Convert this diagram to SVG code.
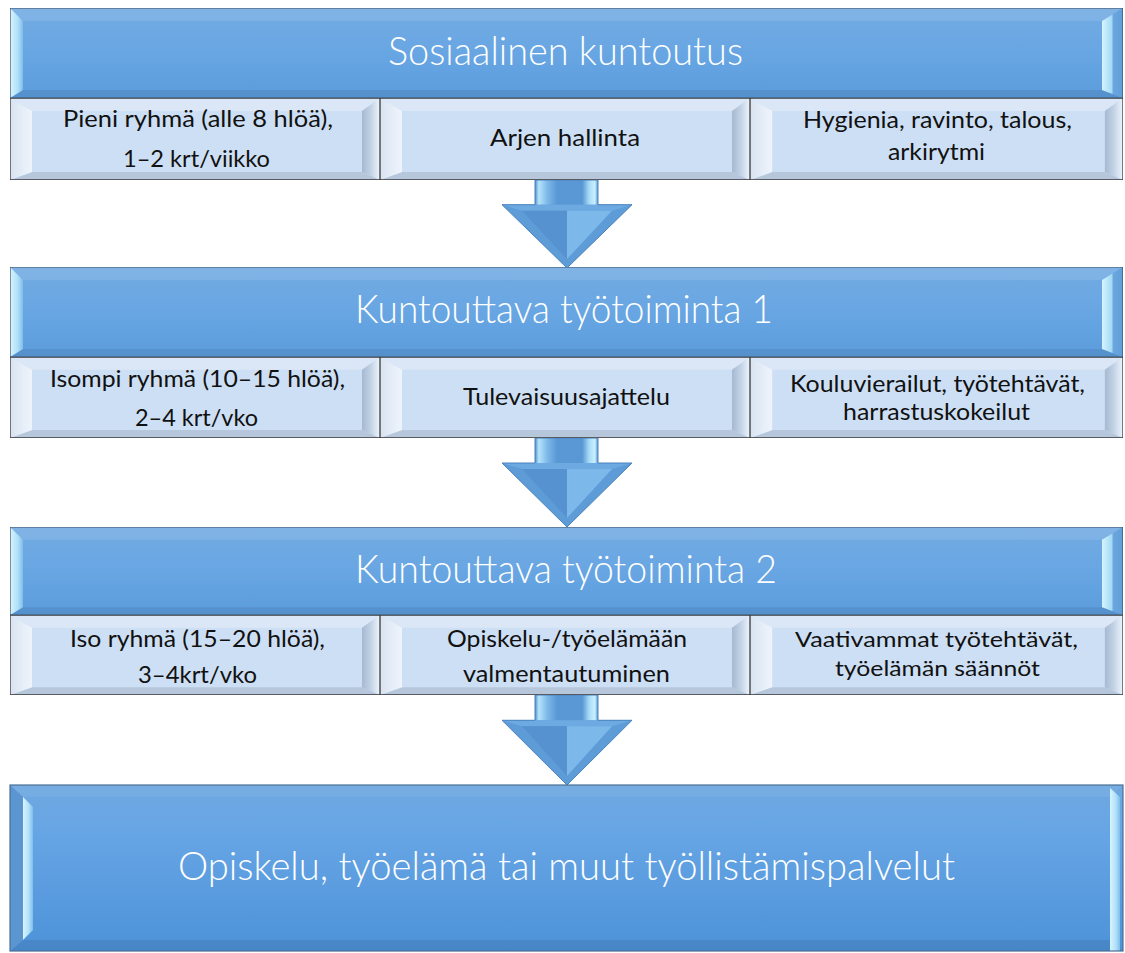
<svg xmlns="http://www.w3.org/2000/svg" xmlns:xlink="http://www.w3.org/1999/xlink" width="1125" height="953" viewBox="0 0 1125 953">
<style>
.h{font-family:Lato,"Liberation Sans","DejaVu Sans",sans-serif;font-weight:300;font-size:39px;fill:#ffffff;text-anchor:middle}
.t{font-family:Lato,"Liberation Sans","DejaVu Sans",sans-serif;font-weight:400;font-size:24px;fill:#111111;text-anchor:middle}
.ts{font-size:22px}
</style>
<defs>
  <linearGradient id="hdrGrad" x1="0" y1="0" x2="0" y2="1">
    <stop offset="0" stop-color="#73abe2"/>
    <stop offset="0.5" stop-color="#68a6e3"/>
    <stop offset="1" stop-color="#5b9cdc"/>
  </linearGradient>
  <linearGradient id="boxGrad" x1="0" y1="0" x2="0" y2="1">
    <stop offset="0" stop-color="#6fa8e0"/>
    <stop offset="0.3" stop-color="#66a5e5"/>
    <stop offset="1" stop-color="#4d92d8"/>
  </linearGradient>
  <linearGradient id="hlL" x1="0" y1="0" x2="1" y2="0">
    <stop offset="0" stop-color="#d8f4ff"/>
    <stop offset="0.6" stop-color="#b0e0f8"/>
    <stop offset="1" stop-color="#7fbdea"/>
  </linearGradient>
  <linearGradient id="hlR" x1="0" y1="0" x2="1" y2="0">
    <stop offset="0" stop-color="#d6f4ff"/>
    <stop offset="0.45" stop-color="#a4dbf6"/>
    <stop offset="0.55" stop-color="#6aa6de"/>
    <stop offset="1" stop-color="#619fda"/>
  </linearGradient>
  <linearGradient id="cellL" x1="0" y1="0" x2="1" y2="0">
    <stop offset="0" stop-color="#d9e4f1"/>
    <stop offset="1" stop-color="#eef4fc"/>
  </linearGradient>
  <linearGradient id="cellR" x1="0" y1="0" x2="1" y2="0">
    <stop offset="0" stop-color="#a6b9d1"/>
    <stop offset="0.5" stop-color="#c3d3e6"/>
    <stop offset="1" stop-color="#eef5fd"/>
  </linearGradient>
  <linearGradient id="shaftGrad" x1="0" y1="0" x2="1" y2="0">
    <stop offset="0" stop-color="#4f8dcc"/>
    <stop offset="0.06" stop-color="#b4e4fb"/>
    <stop offset="0.2" stop-color="#7db8e8"/>
    <stop offset="0.35" stop-color="#5a98d5"/>
    <stop offset="0.75" stop-color="#5a98d5"/>
    <stop offset="0.86" stop-color="#a8dcf7"/>
    <stop offset="0.95" stop-color="#c8efff"/>
    <stop offset="1" stop-color="#5d95cf"/>
  </linearGradient>

  <symbol id="header" viewBox="0 0 1113 90" preserveAspectRatio="none">
    <rect x="0" y="0" width="1113" height="90" fill="url(#hdrGrad)"/>
    <polygon points="0,0 1113,0 1092,13 13,13" fill="#ffffff" fill-opacity="0.1"/>
    <polygon points="0,90 13,82 1092,82 1113,90" fill="#000000" fill-opacity="0.07"/>
    <polygon points="0,0 13,13 13,82 0,90" fill="url(#hlL)"/>
    <polygon points="1113,0 1113,90 1092,82 1092,13" fill="url(#hlR)"/>
    <rect x="0" y="0" width="1113" height="90" fill="none" stroke="#3e4e5e" stroke-width="1.2" vector-effect="non-scaling-stroke"/>
  </symbol>

  <symbol id="cell" viewBox="0 0 370 82" preserveAspectRatio="none">
    <rect x="0" y="0" width="370" height="82" fill="#cddff4"/>
    <polygon points="0,0 370,0 352,13 22,13" fill="#dbe7f6"/>
    <polygon points="0,82 22,74 352,74 370,82" fill="#b6c7dc"/>
    <polygon points="0,0 22,13 22,74 0,82" fill="url(#cellL)"/>
    <polygon points="370,0 370,82 352,74 352,13" fill="url(#cellR)"/>
    <rect x="0" y="0" width="370" height="82" fill="none" stroke="#3a3a3a" stroke-width="1.3" vector-effect="non-scaling-stroke"/>
  </symbol>

  <symbol id="arrow" viewBox="0 0 130 89" preserveAspectRatio="none">
    <polygon points="33,0 96,0 96,25 130,25 65,89 0,25 33,25" fill="#5e9cd8"/>
    <rect x="33" y="0" width="63" height="25" fill="url(#shaftGrad)"/>
    <polygon points="0,25 130,25 110,31 20,31" fill="#6eaae2"/>
    <polygon points="20,31 65,31 65,80" fill="#5592cf"/>
    <polygon points="65,31 110,31 65,80" fill="#7db8ea"/>
    <polygon points="33,0 96,0 96,25 130,25 65,89 0,25 33,25" fill="none" stroke="#4a82bd" stroke-width="1" vector-effect="non-scaling-stroke"/>
  </symbol>
</defs>

<rect x="0" y="0" width="1125" height="953" fill="#ffffff"/>

<g id="connectors">
  <use xlink:href="#arrow" href="#arrow" x="502" y="180" width="130" height="88"/>
  <use xlink:href="#arrow" href="#arrow" x="502" y="438" width="130" height="89"/>
  <use xlink:href="#arrow" href="#arrow" x="502" y="695" width="130" height="90"/>
</g>

<g id="sosiaalinen-kuntoutus">
  <use xlink:href="#header" href="#header" x="10" y="8" width="1113" height="90"/>
  <text class="h" x="565.5" y="65" textLength="355" lengthAdjust="spacingAndGlyphs">Sosiaalinen kuntoutus</text>
</g>
<g id="s1-ryhma">
  <use xlink:href="#cell" href="#cell" x="10" y="98" width="370" height="82"/>
  <text class="t" x="198" y="127" textLength="270" lengthAdjust="spacingAndGlyphs">Pieni ryhmä (alle 8 hlöä),</text>
  <text class="t" x="196.5" y="167" textLength="147" lengthAdjust="spacingAndGlyphs">1–2 krt/viikko</text>
</g>
<g id="s1-arjen-hallinta">
  <use xlink:href="#cell" href="#cell" x="380" y="98" width="370" height="82"/>
  <text class="t" x="565" y="146" textLength="150" lengthAdjust="spacingAndGlyphs">Arjen hallinta</text>
</g>
<g id="s1-hygienia">
  <use xlink:href="#cell" href="#cell" x="750" y="98" width="373" height="82"/>
  <text class="t" x="937.5" y="128" textLength="269" lengthAdjust="spacingAndGlyphs">Hygienia, ravinto, talous,</text>
  <text class="t" x="936.5" y="160" textLength="97" lengthAdjust="spacingAndGlyphs">arkirytmi</text>
</g>

<g id="kuntouttava-tyotoiminta-1">
  <use xlink:href="#header" href="#header" x="10" y="267" width="1113" height="90"/>
  <text class="h" x="564" y="323" textLength="418" lengthAdjust="spacingAndGlyphs">Kuntouttava työtoiminta 1</text>
</g>
<g id="s2-ryhma">
  <use xlink:href="#cell" href="#cell" x="10" y="357" width="370" height="81"/>
  <text class="t" x="197.5" y="387" textLength="295" lengthAdjust="spacingAndGlyphs">Isompi ryhmä (10–15 hlöä),</text>
  <text class="t" x="196.5" y="426" textLength="123" lengthAdjust="spacingAndGlyphs">2–4 krt/vko</text>
</g>
<g id="s2-tulevaisuus">
  <use xlink:href="#cell" href="#cell" x="380" y="357" width="370" height="81"/>
  <text class="t" x="566.5" y="405" textLength="207" lengthAdjust="spacingAndGlyphs">Tulevaisuusajattelu</text>
</g>
<g id="s2-kouluvierailut">
  <use xlink:href="#cell" href="#cell" x="750" y="357" width="373" height="81"/>
  <text class="t" x="937.5" y="392" textLength="295" lengthAdjust="spacingAndGlyphs">Kouluvierailut, työtehtävät,</text>
  <text class="t" x="936.5" y="420" textLength="187" lengthAdjust="spacingAndGlyphs">harrastuskokeilut</text>
</g>

<g id="kuntouttava-tyotoiminta-2">
  <use xlink:href="#header" href="#header" x="10" y="527" width="1113" height="88"/>
  <text class="h" x="566" y="583" textLength="422" lengthAdjust="spacingAndGlyphs">Kuntouttava työtoiminta 2</text>
</g>
<g id="s3-ryhma">
  <use xlink:href="#cell" href="#cell" x="10" y="615" width="370" height="80"/>
  <text class="t" x="197.5" y="647" textLength="255" lengthAdjust="spacingAndGlyphs">Iso ryhmä (15–20 hlöä),</text>
  <text class="t" x="197.5" y="683" textLength="119" lengthAdjust="spacingAndGlyphs">3–4krt/vko</text>
</g>
<g id="s3-valmentautuminen">
  <use xlink:href="#cell" href="#cell" x="380" y="615" width="370" height="80"/>
  <text class="t" x="567" y="647" textLength="240" lengthAdjust="spacingAndGlyphs">Opiskelu-/työelämään</text>
  <text class="t" x="566.5" y="682" textLength="207" lengthAdjust="spacingAndGlyphs">valmentautuminen</text>
</g>
<g id="s3-vaativammat">
  <use xlink:href="#cell" href="#cell" x="750" y="615" width="373" height="80"/>
  <text class="t ts" x="936.5" y="647" textLength="283" lengthAdjust="spacingAndGlyphs">Vaativammat työtehtävät,</text>
  <text class="t ts" x="937.5" y="676" textLength="205" lengthAdjust="spacingAndGlyphs">työelämän säännöt</text>
</g>

<g id="opiskelu-tyoelama">
  <rect x="10" y="785" width="1113" height="166" fill="url(#boxGrad)"/>
  <polygon points="10,785 1123,785 1110,797 23,797" fill="#ffffff" fill-opacity="0.06"/>
  <polygon points="10,951 23,940 1110,940 1123,951" fill="#000000" fill-opacity="0.08"/>
  <polygon points="10,785 23,797 23,940 10,951" fill="#5b96d0"/>
  <polygon points="23,797 33,807 33,930 23,940" fill="url(#hlL)"/>
  <polygon points="1110,788 1120,797 1120,951 1110,951" fill="url(#hlL)"/>
  <rect x="10" y="785" width="1113" height="166" fill="none" stroke="#4a6f94" stroke-width="1.2"/>
  <text class="h" x="566.5" y="880" textLength="777" lengthAdjust="spacingAndGlyphs">Opiskelu, työelämä tai muut työllistämispalvelut</text>
</g>
</svg>
